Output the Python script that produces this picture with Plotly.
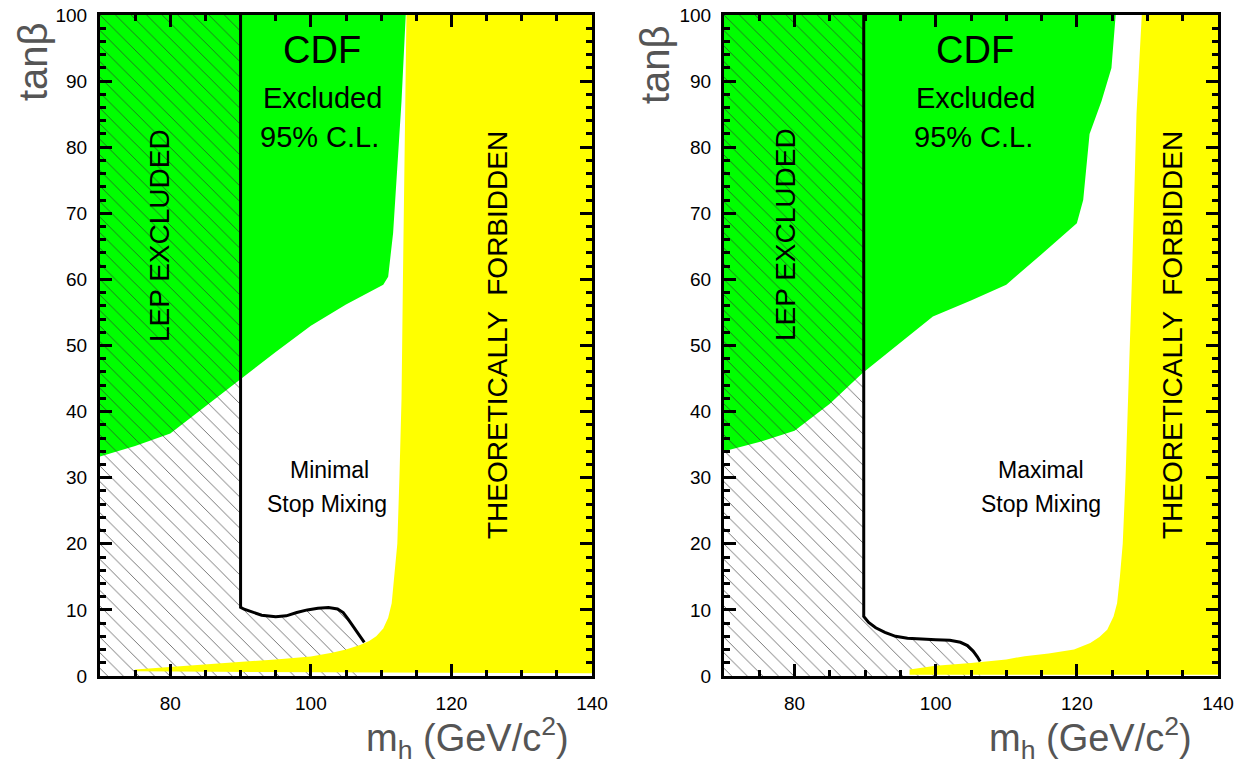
import plotly.graph_objects as go

# ---------------- data: left panel (minimal stop mixing) ----------------
min_cdf_x = [70, 75, 80, 85, 90, 95, 100, 105, 110.3, 111.0, 111.7, 112.3, 112.9, 113.5, 70]
min_cdf_y = [33.2, 34.8, 36.7, 40.8, 45.0, 49.0, 53.0, 56.2, 59.2, 60.4, 67.0, 77.0, 87.0, 100, 100]

min_curve_x = [90, 90, 90.5, 91.5, 93, 95, 96.5, 98, 99.5, 101, 102.5, 103.8, 104.6, 105.3, 106.2, 107.0, 107.6]
min_curve_y = [100, 10.4, 10.1, 9.7, 9.2, 8.95, 9.1, 9.6, 10.0, 10.25, 10.35, 10.15, 9.6, 8.6, 7.2, 6.0, 5.1]

min_theo_x = [75, 80, 85, 90, 95, 100, 103, 105, 107, 108.3, 109.3, 110.3, 111.0, 111.5, 111.9,
              112.3, 112.6, 112.9, 113.1, 113.3, 113.6, 140, 140, 75]
min_theo_y = [1.0, 1.35, 1.7, 2.1, 2.5, 2.95, 3.5, 4.0, 4.7, 5.3, 6.0, 7.2, 8.8, 11, 15,
              20, 30, 42, 60, 80, 100, 100, 0.4, 0.7]

# ---------------- data: right panel (maximal stop mixing) ----------------
max_cdf_x = [70, 75, 80, 85, 89.6, 95, 99.6, 105, 110, 115, 120, 120.9, 121.8, 123.5, 124.9, 125.5, 70]
max_cdf_y = [34.0, 35.4, 37.1, 41.2, 45.8, 50.5, 54.4, 56.8, 59.2, 63.8, 68.5, 72, 82, 87, 92, 100, 100]

max_curve_x = [89.8, 89.8, 90.5, 91.5, 92.8, 94.3, 96, 98, 100, 102, 103.5, 104.5, 105.3, 105.9, 106.3]
max_curve_y = [100, 9.0, 8.1, 7.3, 6.6, 6.0, 5.7, 5.55, 5.5, 5.4, 5.1, 4.6, 3.8, 2.9, 2.2]

max_theo_x = [96.3, 100, 105, 110, 112.6, 116, 119.6, 121.9, 123.2, 124.3, 125.2, 125.7, 126.1,
              126.5, 126.9, 127.3, 127.8, 128.45, 129.2, 140, 140, 96.3]
max_theo_y = [1.0, 1.55, 1.95, 2.5, 3.0, 3.4, 4.0, 5.0, 5.9, 7.0, 9.0, 11, 15,
              20, 30, 42, 60, 85, 100, 100, 0.2, 0.2]

x_range = [70, 140]
y_range = [0, 100]

# ---------------- figure ----------------
W, H = 1246, 768
def px(v):
    return v / W
def py(v):
    return 1 - v / H

GREEN = "#00ff00"
YELLOW = "#ffff00"
FONT = "Liberation Sans"

fig = go.Figure()

panels = [
    ("x", "y", min_cdf_x, min_cdf_y, min_curve_x, min_curve_y, min_theo_x, min_theo_y),
    ("x2", "y2", max_cdf_x, max_cdf_y, max_curve_x, max_curve_y, max_theo_x, max_theo_y),
]

for xa, ya, gx, gy, cx, cy, tx, ty in panels:
    # CDF excluded (green)
    fig.add_trace(go.Scatter(x=gx, y=gy, xaxis=xa, yaxis=ya, mode="lines", fill="toself",
                             fillcolor=GREEN, line=dict(width=0), hoverinfo="skip", showlegend=False))
    # LEP excluded (hatched)
    hx = [70, 70] + cx + [cx[-1], 70]
    hy = [0, 100] + cy + [0, 0]
    fig.add_trace(go.Scatter(x=hx, y=hy, xaxis=xa, yaxis=ya, mode="lines", fill="toself",
                             fillcolor="rgba(0,0,0,0)",
                             fillpattern=dict(shape="\\", size=11, solidity=0.06,
                                              fgcolor="#333333", bgcolor="rgba(0,0,0,0)"),
                             line=dict(width=0), hoverinfo="skip", showlegend=False))
    # theoretically forbidden (yellow)
    fig.add_trace(go.Scatter(x=tx, y=ty, xaxis=xa, yaxis=ya, mode="lines", fill="toself",
                             fillcolor=YELLOW, line=dict(width=0), hoverinfo="skip", showlegend=False))
    # LEP limit curve
    fig.add_trace(go.Scatter(x=cx, y=cy, xaxis=xa, yaxis=ya, mode="lines",
                             line=dict(color="black", width=3),
                             hoverinfo="skip", showlegend=False))

def xaxis_cfg(domain):
    return dict(domain=domain, range=x_range, showgrid=False, zeroline=False, automargin=False,
                showline=True, linewidth=3, linecolor="black", mirror="allticks",
                ticks="inside", ticklen=12, tickwidth=3, tickcolor="black",
                tickmode="linear", tick0=80, dtick=20,
                minor=dict(ticks="inside", ticklen=6, tickwidth=3, tickcolor="black", dtick=5, tick0=70),
                tickfont=dict(family=FONT, size=19, color="black"), ticklabelstandoff=8,
                layer="above traces")

def yaxis_cfg(anchor):
    return dict(domain=[py(676), py(15)], range=y_range, anchor=anchor, showgrid=False, zeroline=False,
                automargin=False,
                showline=True, linewidth=3, linecolor="black", mirror="allticks",
                ticks="inside", ticklen=12, tickwidth=3, tickcolor="black",
                tickmode="linear", tick0=0, dtick=10,
                minor=dict(ticks="inside", ticklen=6, tickwidth=3, tickcolor="black", dtick=2),
                tickfont=dict(family=FONT, size=19, color="black"), ticklabelstandoff=6,
                layer="above traces")

fig.update_layout(
    template="none",
    width=W, height=H, margin=dict(l=0, r=0, t=0, b=0, pad=0, autoexpand=False),
    paper_bgcolor="white", plot_bgcolor="white",
    xaxis=dict(xaxis_cfg([px(100), px(592)]), anchor="y"),
    yaxis=yaxis_cfg("x"),
    xaxis2=dict(xaxis_cfg([px(724), px(1218)]), anchor="y2"),
    yaxis2=yaxis_cfg("x2"),
)

ann = []
def text(s, x, y, size, angle=0, color="black"):
    ann.append(dict(text=s, x=px(x), y=py(y), xref="paper", yref="paper",
                    xanchor="center", yanchor="middle", showarrow=False, textangle=angle,
                    font=dict(family=FONT, size=size, color=color)))

for off, cdfx, lepx, theox, mix_label, mixx in [(0, 322, 160, 497, "Minimal", 330),
                                               (1, 975, 786, 1172, "Maximal", 1041)]:
    text("CDF", cdfx, 50, 38)
    text("Excluded", cdfx, 98, 29)
    text("95% C.L.", cdfx - 2, 137, 29)
    text("LEP EXCLUDED", lepx, 235, 28, -90)
    text("THEORETICALLY  FORBIDDEN", theox, 335, 28, -90)
    text(mix_label, mixx, 470, 23)
    text("Stop Mixing", mixx - 3 if off == 0 else mixx, 504, 23)

text("tanβ", 33, 62, 40, -90, "#555555")
text("tanβ", 655, 65, 40, -90, "#555555")
text("m<sub>h</sub> (GeV/c<sup>2</sup>)", 467, 738, 38, 0, "#555555")
text("m<sub>h</sub> (GeV/c<sup>2</sup>)", 1090, 738, 38, 0, "#555555")

fig.update_layout(annotations=ann)

fig.write_html("out.html", config={"displayModeBar": False},
               post_script="document.body.style.margin='0';document.body.style.overflow='hidden';")
